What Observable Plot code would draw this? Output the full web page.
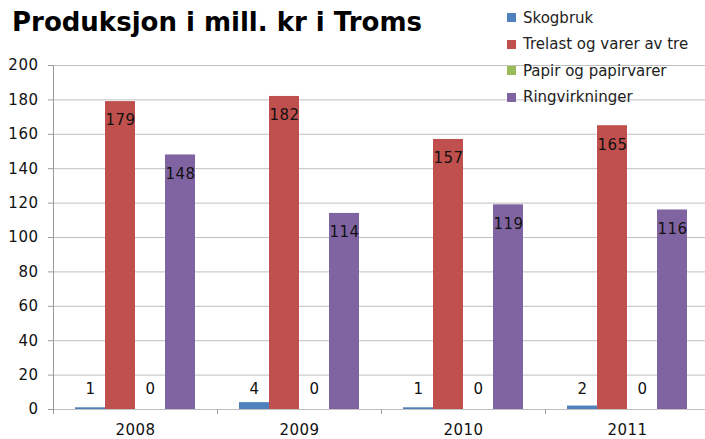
<!DOCTYPE html>
<html><head><meta charset="utf-8">
<script src="https://cdn.jsdelivr.net/npm/d3@7"></script>
<script src="https://cdn.jsdelivr.net/npm/@observablehq/plot@0.6"></script>
<style>
body{margin:0;background:#fff;}
#wrap{position:relative;width:705px;height:439px;overflow:hidden;font-family:"DejaVu Sans",sans-serif;}
#chart{position:absolute;left:0;top:0;}
#title{position:absolute;left:12px;top:10px;font-size:26px;font-weight:bold;line-height:25px;white-space:nowrap;color:#000;}
#legend{position:absolute;left:507px;top:0;}
.item{position:absolute;left:0;height:18px;display:flex;align-items:center;white-space:nowrap;font-size:15px;color:#222;}
.sw{width:9px;height:9px;margin-right:7px;flex:none;}
#chart svg text{letter-spacing:0.5px;}
</style></head>
<body><div id="wrap"><div id="chart"></div><div id="title"></div><div id="legend"></div></div>
<script>
const title = "Produksjon i mill. kr i Troms";
const years = ["2008", "2009", "2010", "2011"];
const series = ["Skogbruk", "Trelast og varer av tre", "Papir og papirvarer", "Ringvirkninger"];
const colors = ["#4F81BD", "#C0504D", "#9BBB59", "#8064A2"];
const skogbruk = [1, 4, 1, 2];
const trelast = [179, 182, 157, 165];
const papir = [0, 0, 0, 0];
const ringvirkninger = [148, 114, 119, 116];
const yTicks = [0, 20, 40, 60, 80, 100, 120, 140, 160, 180, 200];

const values = [skogbruk, trelast, papir, ringvirkninger];
const data = years.flatMap((year, i) => series.map((s, j) => ({year, series: s, value: values[j][i]})));

const width = 705, marginLeft = 53, marginRight = -4;
const step = (width - marginLeft - marginRight) / years.length;

const chart = Plot.plot({
  width, height: 439,
  marginTop: 65, marginBottom: 30, marginLeft, marginRight,
  style: {fontFamily: "DejaVu Sans, sans-serif", fontSize: "15px", color: "#111", background: "transparent"},
  fx: {domain: years, padding: 0, label: null},
  x: {domain: series, paddingInner: 0, paddingOuter: 0.733, axis: null},
  y: {domain: [0, 200], axis: null},
  color: {domain: series, range: colors},
  marks: [
    Plot.gridY(yTicks, {stroke: "#c0c0c0", strokeOpacity: 1}),
    Plot.barY(data, {fx: "year", x: "series", y: "value", fill: "series"}),
    Plot.text(data, {filter: d => d.value >= 10, fx: "year", x: "series", y: "value", text: d => String(d.value), dy: 19, fill: "#111"}),
    Plot.text(data, {filter: d => d.value < 10, fx: "year", x: "series", frameAnchor: "bottom", text: d => String(d.value), dy: -16, fill: "#111"}),
    Plot.frame({anchor: "left", facet: "super", stroke: "#9a9a9a"}),
    Plot.axisY(yTicks, {anchor: "left", tickSize: 5, tickPadding: 10, stroke: "#9a9a9a", fill: "#111", label: null}),
    Plot.axisFx({anchor: "bottom", tickSize: 5, tickFormat: () => "", dx: -step / 2, stroke: "#9a9a9a", label: null}),
    Plot.axisFx({anchor: "bottom", tickSize: 0, tickPadding: 15, fill: "#111", label: null})
  ]
});
document.getElementById("chart").appendChild(chart);

document.getElementById("title").textContent = title;
const legend = document.getElementById("legend");
series.forEach((s, i) => {
  const item = document.createElement("div");
  item.className = "item";
  item.style.top = (8.5 + i * 26.5) + "px";
  const sw = document.createElement("div");
  sw.className = "sw";
  sw.style.background = colors[i];
  item.appendChild(sw);
  item.appendChild(document.createTextNode(s));
  legend.appendChild(item);
});
</script>
</body></html>
